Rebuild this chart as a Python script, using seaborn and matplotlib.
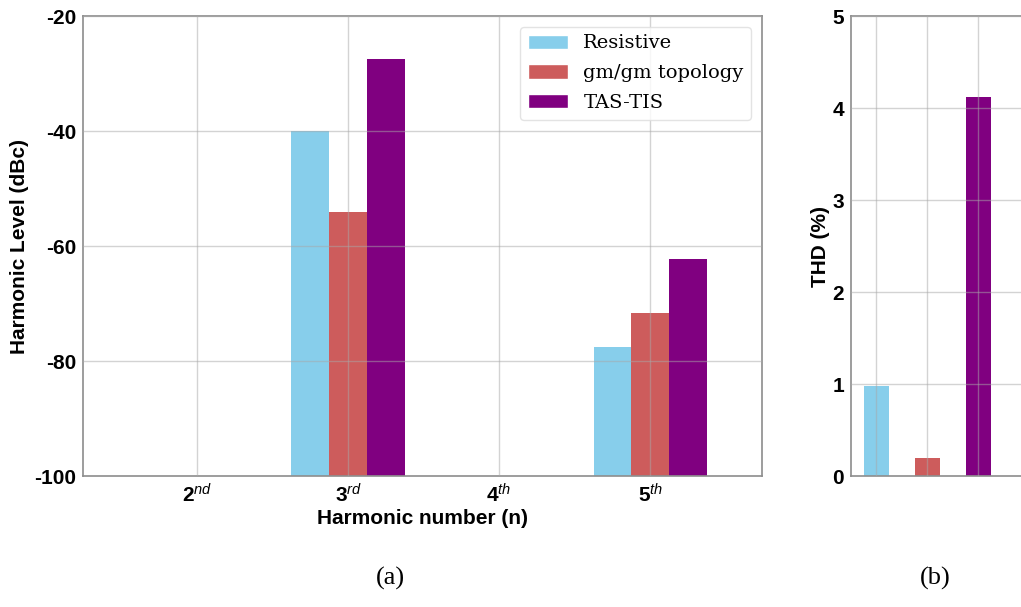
import matplotlib
matplotlib.use("Agg")
import matplotlib.pyplot as plt
from matplotlib.patches import Patch
import seaborn as sns
import pandas as pd
import numpy as np

# data
harmonics = ["2nd", "3rd", "4th", "5th"]
harmonic_labels = ["2$^{nd}$", "3$^{rd}$", "4$^{th}$", "5$^{th}$"]
topologies = ["Resistive", "gm/gm topology", "TAS-TIS"]
resistive_dbc = [np.nan, -40.0, np.nan, -77.5]
gmgm_dbc = [np.nan, -54.0, np.nan, -71.7]
tastis_dbc = [np.nan, -27.5, np.nan, -62.2]
thd_pct = [0.98, 0.2, 4.12]

level_ticks = [-100, -80, -60, -40, -20]
thd_ticks = [0, 1, 2, 3, 4, 5]
FLOOR = -100

colors = {"Resistive": "skyblue", "gm/gm topology": "indianred", "TAS-TIS": "purple"}

# plotting housekeeping
sns.set_style("white")
plt.rcParams["font.family"] = ["Liberation Sans", "DejaVu Sans"]
plt.rcParams["mathtext.fontset"] = "custom"
plt.rcParams["mathtext.it"] = "Liberation Sans:italic"
plt.rcParams["mathtext.rm"] = "Liberation Sans"
plt.rcParams["text.color"] = "black"
plt.rcParams["axes.labelcolor"] = "black"

levels_df = pd.DataFrame(
    {
        "harmonic": harmonics * 3,
        "topology": np.repeat(topologies, len(harmonics)),
        "level": resistive_dbc + gmgm_dbc + tastis_dbc,
    }
)
levels_df["height"] = levels_df["level"] - FLOOR

thd_df = pd.DataFrame({"topology": topologies, "thd": thd_pct})

fig = plt.figure(figsize=(10.21, 6.07), dpi=100)
ax_a = fig.add_axes([0.0813, 0.2158, 0.665, 0.7578])
ax_b = fig.add_axes([0.8335, 0.2158, 0.186, 0.7578])

GRID = dict(color="#a8a8a8", linewidth=1.0, alpha=0.5)
SPINE = "#8c8c8c"
FS = 15

# (a) harmonic levels, bars start at the -100 dBc floor
sns.barplot(
    data=levels_df,
    x="harmonic",
    y="height",
    hue="topology",
    order=harmonics,
    hue_order=topologies,
    palette=colors,
    width=0.75,
    errorbar=None,
    saturation=1,
    bottom=FLOOR,
    linewidth=0,
    legend=False,
    ax=ax_a,
)
ax_a.set_xlim(-0.755, 3.74)
ax_a.set_ylim(-100, -20)
ax_a.set_yticks(level_ticks)
ax_a.set_yticklabels([str(t) for t in level_ticks], fontsize=FS, fontweight="bold")
ax_a.set_xticks(range(len(harmonics)))
ax_a.set_xticklabels(harmonic_labels, fontsize=FS, fontweight="bold")
ax_a.set_xlabel("Harmonic number (n)", fontsize=FS, fontweight="bold", labelpad=2)
ax_a.set_ylabel("Harmonic Level (dBc)", fontsize=FS, fontweight="bold", labelpad=4)
ax_a.set_axisbelow(False)
ax_a.grid(True, **GRID)
ax_a.tick_params(length=3, width=1, color=SPINE, labelcolor="black", pad=2)
for sp in ax_a.spines.values():
    sp.set_color(SPINE)
    sp.set_linewidth(1.2)
handles = [Patch(facecolor=colors[t], label=t) for t in topologies]
ax_a.legend(
    handles=handles,
    loc="upper right",
    prop={"family": "DejaVu Serif", "size": 14},
    frameon=True,
    edgecolor="#dddddd",
    borderaxespad=0.55,
    borderpad=0.4,
    labelspacing=0.6,
    handlelength=2.05,
    handleheight=0.75,
    handletextpad=0.8,
)

# (b) total harmonic distortion
sns.barplot(
    data=thd_df,
    x="topology",
    y="thd",
    hue="topology",
    order=topologies,
    palette=colors,
    width=0.5,
    errorbar=None,
    saturation=1,
    linewidth=0,
    legend=False,
    ax=ax_b,
)
ax_b.set_xlim(-0.5, 3.23)
ax_b.set_ylim(0, 5)
ax_b.set_yticks(thd_ticks)
ax_b.set_yticklabels([str(t) for t in thd_ticks], fontsize=FS, fontweight="bold")
ax_b.set_xticklabels([])
ax_b.set_xlabel("")
ax_b.set_ylabel("THD (%)", fontsize=FS, fontweight="bold", labelpad=2)
ax_b.set_axisbelow(False)
ax_b.grid(True, **GRID)
ax_b.tick_params(length=3, width=1, color=SPINE, labelcolor="black", pad=2)
for sp in ax_b.spines.values():
    sp.set_color(SPINE)
    sp.set_linewidth(1.2)

fig.text(390 / 1021, 1 - 578 / 607, "(a)", ha="center", va="center",
         family="Liberation Serif", fontsize=19)
fig.text(935 / 1021, 1 - 578 / 607, "(b)", ha="center", va="center",
         family="Liberation Serif", fontsize=19)

fig.savefig("out.png", dpi=100)
